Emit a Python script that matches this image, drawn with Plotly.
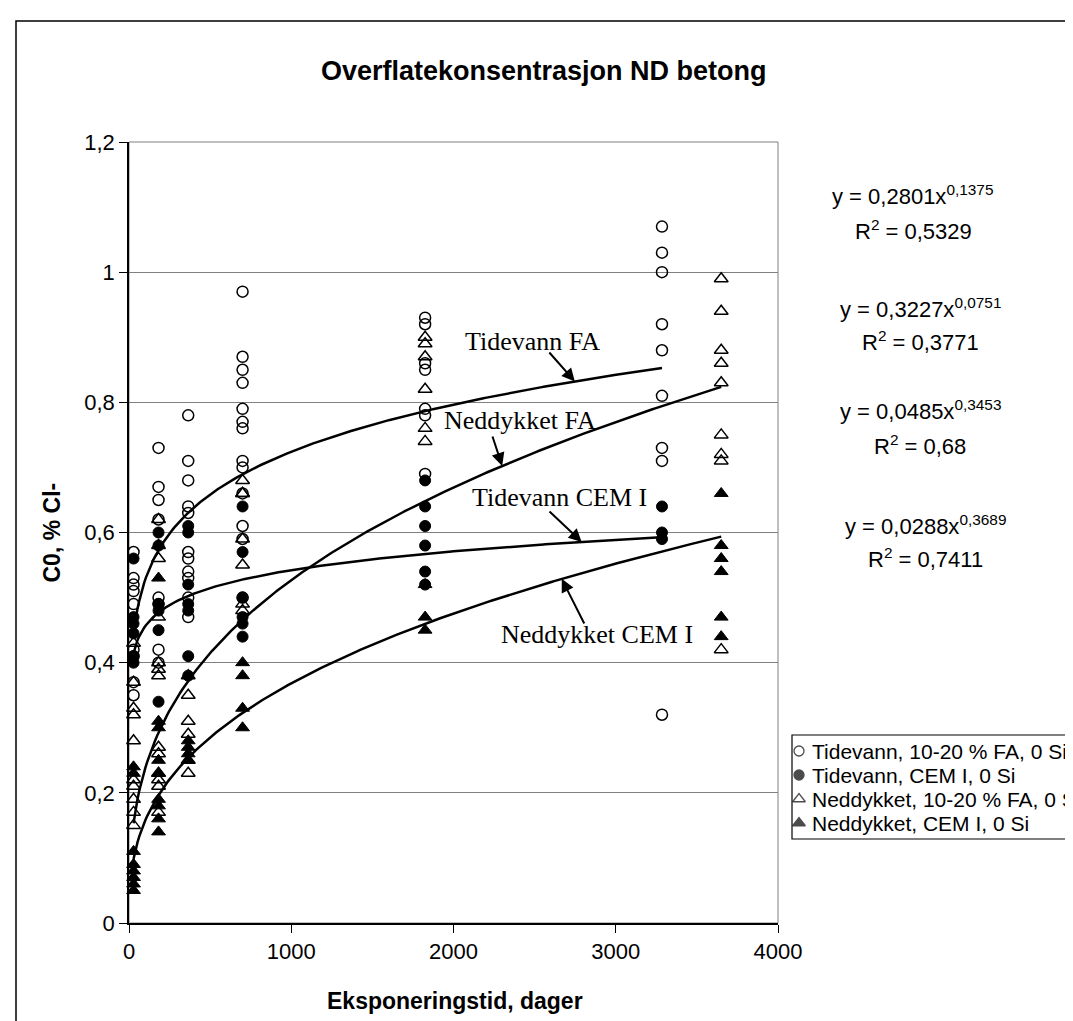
import numpy as np
import plotly.graph_objects as go

# ---------------- data ----------------
days = [28, 182, 365, 700, 1825, 3285, 3650]

# Tidevann, 10-20 % FA, 0 Si  (open circles)
tid_fa = {
    28:   [0.57, 0.53, 0.52, 0.51, 0.49, 0.42, 0.41, 0.37, 0.35],
    182:  [0.73, 0.67, 0.65, 0.62, 0.50, 0.49, 0.42, 0.40],
    365:  [0.78, 0.71, 0.68, 0.64, 0.63, 0.57, 0.56, 0.54, 0.53, 0.50, 0.47],
    700:  [0.97, 0.87, 0.85, 0.83, 0.79, 0.77, 0.76, 0.71, 0.70, 0.66, 0.61, 0.59, 0.50],
    1825: [0.93, 0.92, 0.86, 0.85, 0.79, 0.78, 0.69],
    3285: [1.07, 1.03, 1.00, 0.92, 0.88, 0.81, 0.73, 0.71, 0.32],
}
# Tidevann, CEM I, 0 Si  (filled circles)
tid_cem = {
    28:   [0.56, 0.47, 0.46, 0.445, 0.41, 0.40],
    182:  [0.60, 0.58, 0.49, 0.48, 0.45, 0.34],
    365:  [0.61, 0.60, 0.52, 0.49, 0.48, 0.41, 0.38],
    700:  [0.64, 0.57, 0.50, 0.47, 0.46, 0.44],
    1825: [0.68, 0.64, 0.61, 0.58, 0.54, 0.52],
    3285: [0.64, 0.60, 0.59],
}
# Neddykket, 10-20 % FA, 0 Si  (open triangles)
ned_fa = {
    28:   [0.43, 0.37, 0.33, 0.32, 0.28, 0.22, 0.21, 0.19, 0.17, 0.15],
    182:  [0.62, 0.58, 0.56, 0.47, 0.40, 0.39, 0.38, 0.27, 0.26, 0.23, 0.22, 0.21, 0.17],
    365:  [0.38, 0.35, 0.31, 0.29, 0.25, 0.23],
    700:  [0.68, 0.66, 0.66, 0.59, 0.55, 0.49, 0.48],
    1825: [0.90, 0.89, 0.87, 0.82, 0.76, 0.74],
    3650: [0.99, 0.94, 0.88, 0.86, 0.83, 0.75, 0.72, 0.71, 0.42],
}
# Neddykket, CEM I, 0 Si  (filled triangles)
ned_cem = {
    28:   [0.24, 0.23, 0.11, 0.09, 0.08, 0.07, 0.06, 0.05],
    182:  [0.53, 0.31, 0.30, 0.25, 0.23, 0.19, 0.18, 0.16, 0.14],
    365:  [0.28, 0.27, 0.26, 0.25],
    700:  [0.40, 0.38, 0.33, 0.30],
    1825: [0.52, 0.47, 0.45],
    3650: [0.66, 0.58, 0.56, 0.54, 0.47, 0.44],
}

series_names = ["Tidevann, 10-20 % FA, 0 Si", "Tidevann, CEM I, 0 Si",
                "Neddykket, 10-20 % FA, 0 Si", "Neddykket, CEM I, 0 Si"]

# power trend lines y = a * x^b as printed on the chart
trend_a = [0.2801, 0.3227, 0.0485, 0.0288]
trend_b = [0.1375, 0.0751, 0.3453, 0.3689]
trend_xmax = [3285, 3285, 3650, 3650]
trend_labels = ["Tidevann FA", "Tidevann CEM I", "Neddykket FA", "Neddykket CEM I"]
eq_text = ["y = 0,2801x<sup>0,1375</sup>", "y = 0,3227x<sup>0,0751</sup>",
           "y = 0,0485x<sup>0,3453</sup>", "y = 0,0288x<sup>0,3689</sup>"]
r2_text = ["R<sup>2</sup> = 0,5329", "R<sup>2</sup> = 0,3771",
           "R<sup>2</sup> = 0,68", "R<sup>2</sup> = 0,7411"]

x_ticks = [0, 1000, 2000, 3000, 4000]
y_ticks = [0, 0.2, 0.4, 0.6, 0.8, 1.0, 1.2]

# ---------------- layout geometry (pixels) ----------------
W, H = 1073, 1021
PL, PR, PT, PB = 121, 770, 134, 915   # plot area edges


def X(p):
    return p / W


def Y(p):
    return 1 - p / H


SANS = "Liberation Sans, Arial, sans-serif"
SERIF = "Liberation Serif, Times New Roman, serif"

fig = go.Figure()


def flat(d):
    xs, ys = [], []
    for k, v in d.items():
        xs += [k] * len(v)
        ys += v
    return xs, ys


styles = [
    dict(symbol="circle-open", color="black", size=11, line=dict(width=1.5, color="black")),
    dict(symbol="circle", color="black", size=11, line=dict(width=1, color="black")),
    dict(symbol="triangle-up-open", color="black", size=12, line=dict(width=1.5, color="black")),
    dict(symbol="triangle-up", color="black", size=12, line=dict(width=1, color="black")),
]
for name, d, st in zip(series_names, [tid_fa, tid_cem, ned_fa, ned_cem], styles):
    xs, ys = flat(d)
    fig.add_trace(go.Scatter(x=xs, y=ys, mode="markers", name=name, marker=st,
                             cliponaxis=False, showlegend=False))

for a, b, xm in zip(trend_a, trend_b, trend_xmax):
    xt = np.linspace(days[0], xm, 300)
    fig.add_trace(go.Scatter(x=xt, y=a * xt ** b, mode="lines", showlegend=False,
                             line=dict(color="black", width=2.5), hoverinfo="skip"))


def trend(i, x):
    return trend_a[i] * x ** trend_b[i]


# legend drawn on an overlay axis measured in pixels (box runs off the right edge)
leg_rows = [743, 767, 791, 815]
fig.add_trace(go.Scatter(x=[791] * 4, y=leg_rows, xaxis="x2", yaxis="y2", mode="markers",
                         marker=dict(symbol=[s["symbol"] for s in styles], color="black",
                                     size=[10, 10, 11, 11], line=dict(width=1.3, color="black")),
                         showlegend=False, hoverinfo="skip", cliponaxis=False))

annotations = []
for name, ry in zip(series_names, leg_rows):
    annotations.append(dict(x=X(802), y=Y(ry), xref="paper", yref="paper", text=name,
                            xanchor="left", yanchor="middle", showarrow=False,
                            font=dict(family=SANS, size=21, color="black")))

# labels of trend lines (Times)
label_pos = [(524, 333), (551, 489), (512, 413), (589, 626)]
for lab, (lx, ly) in zip(trend_labels, label_pos):
    annotations.append(dict(x=X(lx), y=Y(ly), xref="paper", yref="paper", text=lab,
                            xanchor="center", yanchor="middle", showarrow=False,
                            font=dict(family=SERIF, size=26, color="black")))


def px2day(p):
    return (p - PL) / (PR - PL) * 4000


def py2val(p):
    return (PB - p) / (PB - PT) * 1.2


# arrows: (trend index, tail pixel, head day on the trend line)
arrows = [(0, (540, 343), 2748), (1, (540, 502), 2790), (2, (484, 427), 2300), (3, (577, 617), 2667)]
for i, (tx, ty), hx in arrows:
    annotations.append(dict(x=hx, y=trend(i, hx), xref="x", yref="y",
                            ax=px2day(tx), ay=py2val(ty), axref="x", ayref="y",
                            text="", showarrow=True,
                            arrowhead=2, arrowsize=1.3, arrowwidth=2, arrowcolor="black",
                            standoff=0, startstandoff=0))

# equations
eq_pos = [(904, 187, 905, 222), (912, 300, 912, 333), (912, 402, 912, 437), (917, 517, 917, 550)]
for e, r2, (ex, ey, rx, ry) in zip(eq_text, r2_text, eq_pos):
    annotations.append(dict(x=X(ex), y=Y(ey), xref="paper", yref="paper", text=e,
                            xanchor="center", yanchor="middle", showarrow=False,
                            font=dict(family=SANS, size=22, color="black")))
    annotations.append(dict(x=X(rx), y=Y(ry), xref="paper", yref="paper", text=r2,
                            xanchor="center", yanchor="middle", showarrow=False,
                            font=dict(family=SANS, size=22, color="black")))

# titles
annotations.append(dict(x=X(536), y=Y(63), xref="paper", yref="paper",
                        xanchor="center", yanchor="middle",
                        text="<b>Overflatekonsentrasjon ND betong</b>", showarrow=False,
                        font=dict(family=SANS, size=27, color="black")))
annotations.append(dict(x=X(447), y=Y(993), xref="paper", yref="paper",
                        xanchor="center", yanchor="middle",
                        text="<b>Eksponeringstid, dager</b>", showarrow=False,
                        font=dict(family=SANS, size=23, color="black")))
annotations.append(dict(x=X(43), y=Y((PT + PB) / 2), xref="paper", yref="paper",
                        xanchor="center", yanchor="middle",
                        text="<b>C0, % Cl-</b>", showarrow=False, textangle=-90,
                        font=dict(family=SANS, size=23, color="black")))

shapes = [
    # plot area frame
    dict(type="rect", xref="paper", yref="paper", x0=X(PL), x1=X(PR), y0=Y(PB), y1=Y(PT),
         line=dict(color="#808080", width=1), layer="below"),
    # outer chart border (runs off the right and bottom of the picture)
    dict(type="rect", xref="paper", yref="paper", x0=X(8), y0=Y(1100), x1=X(1200), y1=Y(13),
         line=dict(color="black", width=1.5)),
    # legend box (runs off the right edge)
    dict(type="rect", xref="paper", yref="paper", x0=X(784), y0=Y(831), x1=X(1200), y1=Y(727),
         line=dict(color="black", width=1.2), fillcolor="white", layer="below"),
]

fig.update_layout(
    width=W, height=H,
    margin=dict(l=0, r=0, t=0, b=0, autoexpand=False),
    paper_bgcolor="white", plot_bgcolor="rgba(0,0,0,0)",
    separators=", ",
    font=dict(family=SANS, size=22, color="black"),
    showlegend=False,
    annotations=annotations,
    shapes=shapes,
    xaxis=dict(domain=[X(PL), X(PR)], range=[0, 4000], tickvals=x_ticks, showgrid=False,
               zeroline=False, showline=True, linecolor="black", linewidth=1.5,
               ticks="outside", ticklen=8, tickcolor="black",
               tickfont=dict(family=SANS, size=22), automargin=False),
    yaxis=dict(domain=[Y(PB), Y(PT)], range=[0, 1.2], tickvals=y_ticks, showgrid=True,
               gridcolor="#808080", gridwidth=1, zeroline=False, showline=True,
               linecolor="black", linewidth=1.5,
               ticks="outside", ticklen=8, tickcolor="black",
               tickfont=dict(family=SANS, size=22), automargin=False),
    xaxis2=dict(domain=[0, 1], range=[0, W], anchor="y2", visible=False, fixedrange=True),
    yaxis2=dict(domain=[0, 1], range=[H, 0], anchor="x2", visible=False, fixedrange=True),
)

fig.write_html("out.html")
